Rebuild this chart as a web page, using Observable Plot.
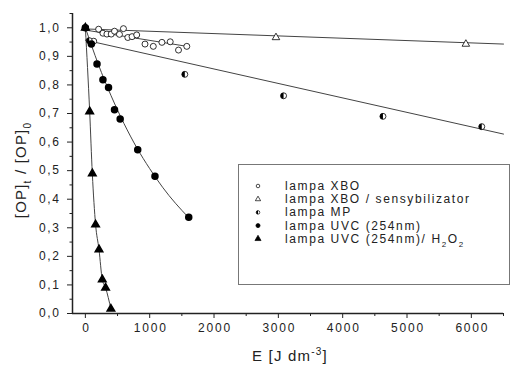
<!DOCTYPE html>
<html><head><meta charset="utf-8">
<script src="https://cdn.jsdelivr.net/npm/d3@7"></script>
<script src="https://cdn.jsdelivr.net/npm/@observablehq/plot@0.6"></script>
<style>
body{margin:0;background:#fff;}
svg{font-family:"Liberation Sans",Arial,sans-serif;}
</style></head><body>
<div id="chart"></div>
<script>
// lampa XBO (open circles)
const xboE = [0, 130, 206, 273, 335, 402, 453, 530, 592, 660, 726, 798, 927, 1056, 1190, 1319, 1448, 1577];
const xboV = [1.0, 0.953, 0.995, 0.981, 0.978, 0.978, 0.988, 0.977, 0.997, 0.966, 0.969, 0.975, 0.943, 0.935, 0.949, 0.951, 0.922, 0.935];
const xboFitE = [0, 1580];
const xboFitV = [0.992, 0.935];
// lampa XBO / sensybilizator (open triangles)
const sensE = [0, 2963, 5915];
const sensV = [1.0, 0.966, 0.943];
const sensFitE = [0, 6500];
const sensFitV = [0.996, 0.943];
// lampa MP (half-filled circles)
const mpE = [0, 60, 1546, 3081, 4626, 6162];
const mpV = [1.0, 0.955, 0.837, 0.762, 0.690, 0.654];
const mpFitE = [0, 6500];
const mpFitV = [0.957, 0.628];
// lampa UVC (254nm) (filled circles)
const uvcE = [0, 93, 181, 273, 360, 453, 541, 814, 1082, 1607];
const uvcV = [1.0, 0.943, 0.873, 0.818, 0.791, 0.713, 0.681, 0.573, 0.480, 0.337];
const uvcFitE = [0, 200, 400, 600, 800, 1000, 1200, 1400, 1600];
const uvcFitV = [1.0, 0.873, 0.762, 0.665, 0.580, 0.507, 0.442, 0.386, 0.337];
// lampa UVC (254nm)/H2O2 (filled triangles)
const h2o2E = [0, 67, 108, 159, 212, 263, 314, 397];
const h2o2V = [1.0, 0.707, 0.490, 0.311, 0.224, 0.119, 0.090, 0.016];

const xTicks = [0, 1000, 2000, 3000, 4000, 5000, 6000];
const xMinor = [500, 1500, 2500, 3500, 4500, 5500, 6500];
const yTicks = [0, 0.1, 0.2, 0.3, 0.4, 0.5, 0.6, 0.7, 0.8, 0.9, 1.0];
const yMinor = [0.05, 0.15, 0.25, 0.35, 0.45, 0.55, 0.65, 0.75, 0.85, 0.95, 1.05];

const legendLabels = ["lampa XBO", "lampa XBO / sensybilizator", "lampa MP", "lampa UVC (254nm)", "lampa UVC (254nm)/ H"];

const zip = (E, V) => E.map((e, i) => ({E: e, V: V[i]}));

const halfCircle = {
  draw(context, size) {
    const r = Math.sqrt(size / Math.PI);
    context.moveTo(0, -r);
    context.arc(0, 0, r, -Math.PI / 2, Math.PI / 2, true);
    context.closePath();
  }
};

const ink = "#222";
const lineCol = "#444";
const fmtY = d => d3.format(".1f")(d).replace(".", ",");
const fmtX = d3.format("d");

const plot = Plot.plot({
  width: 512, height: 367,
  marginLeft: 72, marginRight: 9, marginTop: 13, marginBottom: 54,
  x: {domain: [-200, 6500]},
  y: {domain: [0, 1.05]},
  style: {fontFamily: '"Liberation Sans", Arial, sans-serif', fontSize: "11px", color: ink, background: "#fff"},
  marks: [
    Plot.axisX({ticks: xTicks, tickSize: 5, tickPadding: 5, tickFormat: fmtX, label: null, stroke: ink, fill: ink, fontSize: 12}),
    Plot.axisX({ticks: xMinor, tickSize: 3, text: null, label: null, stroke: ink}),
    Plot.axisY({ticks: yTicks, tickSize: 5, tickPadding: 7, tickFormat: fmtY, label: null, stroke: ink, fill: ink, fontSize: 12}),
    Plot.axisY({ticks: yMinor, tickSize: 2.5, text: null, label: null, stroke: ink}),
    Plot.ruleY([0], {stroke: ink, strokeWidth: 1.5}),
    Plot.ruleX([-200], {stroke: ink, strokeWidth: 1.5}),
    // fit lines
    Plot.line(zip(xboFitE, xboFitV), {x: "E", y: "V", stroke: lineCol, strokeWidth: 1}),
    Plot.line(zip(sensFitE, sensFitV), {x: "E", y: "V", stroke: lineCol, strokeWidth: 1}),
    Plot.line(zip(mpFitE, mpFitV), {x: "E", y: "V", stroke: lineCol, strokeWidth: 1}),
    Plot.line(zip(uvcFitE, uvcFitV), {x: "E", y: "V", stroke: lineCol, strokeWidth: 1, curve: "natural"}),
    Plot.line(zip(h2o2E, h2o2V), {x: "E", y: "V", stroke: lineCol, strokeWidth: 1, curve: "monotone-x"}),
    // points
    Plot.dot(zip(xboE, xboV), {x: "E", y: "V", r: 3, fill: "white", stroke: "black", strokeWidth: 0.8}),
    Plot.dot(zip(sensE, sensV), {x: "E", y: "V", r: 2.8, symbol: "triangle", fill: "white", stroke: "black", strokeWidth: 0.8}),
    Plot.dot(zip(mpE, mpV), {x: "E", y: "V", r: 3, fill: "white", stroke: "black", strokeWidth: 0.8}),
    Plot.dot(zip(mpE, mpV), {x: "E", y: "V", r: 3, symbol: halfCircle, fill: "black", stroke: "none"}),
    Plot.dot(zip(uvcE, uvcV), {x: "E", y: "V", r: 3, fill: "black", stroke: "black"}),
    Plot.dot(zip(h2o2E, h2o2V), {x: "E", y: "V", r: 2.8, symbol: "triangle", fill: "black", stroke: "black"})
  ]
});
document.getElementById("chart").appendChild(plot);

const svg = d3.select(plot);
svg.selectAll('g[aria-label="x-axis tick label"] text').attr("letter-spacing", 1.8).attr("dx", 1);
svg.selectAll('g[aria-label="y-axis tick label"] text').attr("letter-spacing", 1.6);

// axis labels
const xl = svg.append("text").attr("x", 290).attr("y", 361).attr("text-anchor", "middle")
  .attr("font-size", 15).attr("letter-spacing", 1.2).attr("fill", ink);
xl.append("tspan").text("E [J dm");
xl.append("tspan").attr("dy", -6).attr("font-size", 10).text("-3");
xl.append("tspan").attr("dy", 6).text("]");

const yl = svg.append("text").attr("transform", "translate(26,170) rotate(-90)").attr("text-anchor", "middle")
  .attr("font-size", 15).attr("letter-spacing", 1.2).attr("fill", ink);
yl.append("tspan").text("[OP]");
yl.append("tspan").attr("dy", 5).attr("font-size", 10).text("t");
yl.append("tspan").attr("dy", -5).text(" / [OP]");
yl.append("tspan").attr("dy", 5).attr("font-size", 10).text("0");

// legend
const lg = svg.append("g");
lg.append("rect").attr("x", 238.5).attr("y", 164.5).attr("width", 271).attr("height", 120)
  .attr("fill", "white").attr("stroke", "#777").attr("stroke-width", 1);
const symDefs = [
  {type: d3.symbolCircle, size: 10, fill: "white", stroke: "black"},
  {type: d3.symbolTriangle, size: 12, fill: "white", stroke: "black"},
  {type: d3.symbolCircle, size: 10, fill: "white", stroke: "black", half: true},
  {type: d3.symbolCircle, size: 13, fill: "black", stroke: "black"},
  {type: d3.symbolTriangle, size: 16, fill: "black", stroke: "black"}
];
legendLabels.forEach((lab, i) => {
  const y = 190 + i * 13.2;
  const s = symDefs[i];
  lg.append("path").attr("transform", `translate(258,${y - 4})`).attr("d", d3.symbol(s.type, s.size)())
    .attr("fill", s.fill).attr("stroke", s.stroke).attr("stroke-width", 0.7);
  if (s.half) lg.append("path").attr("transform", `translate(258,${y - 4})`).attr("d", d3.symbol(halfCircle, 10)()).attr("fill", "black");
  const t = lg.append("text").attr("x", 285).attr("y", y).attr("text-anchor", "start")
    .attr("font-size", 12).attr("letter-spacing", 1.6).attr("fill", ink).text(lab);
  if (i === 4) {
    t.append("tspan").attr("dy", 4).attr("font-size", 8).text("2");
    t.append("tspan").attr("dy", -4).text("O");
    t.append("tspan").attr("dy", 4).attr("font-size", 8).text("2");
  }
});
</script>
</body></html>
